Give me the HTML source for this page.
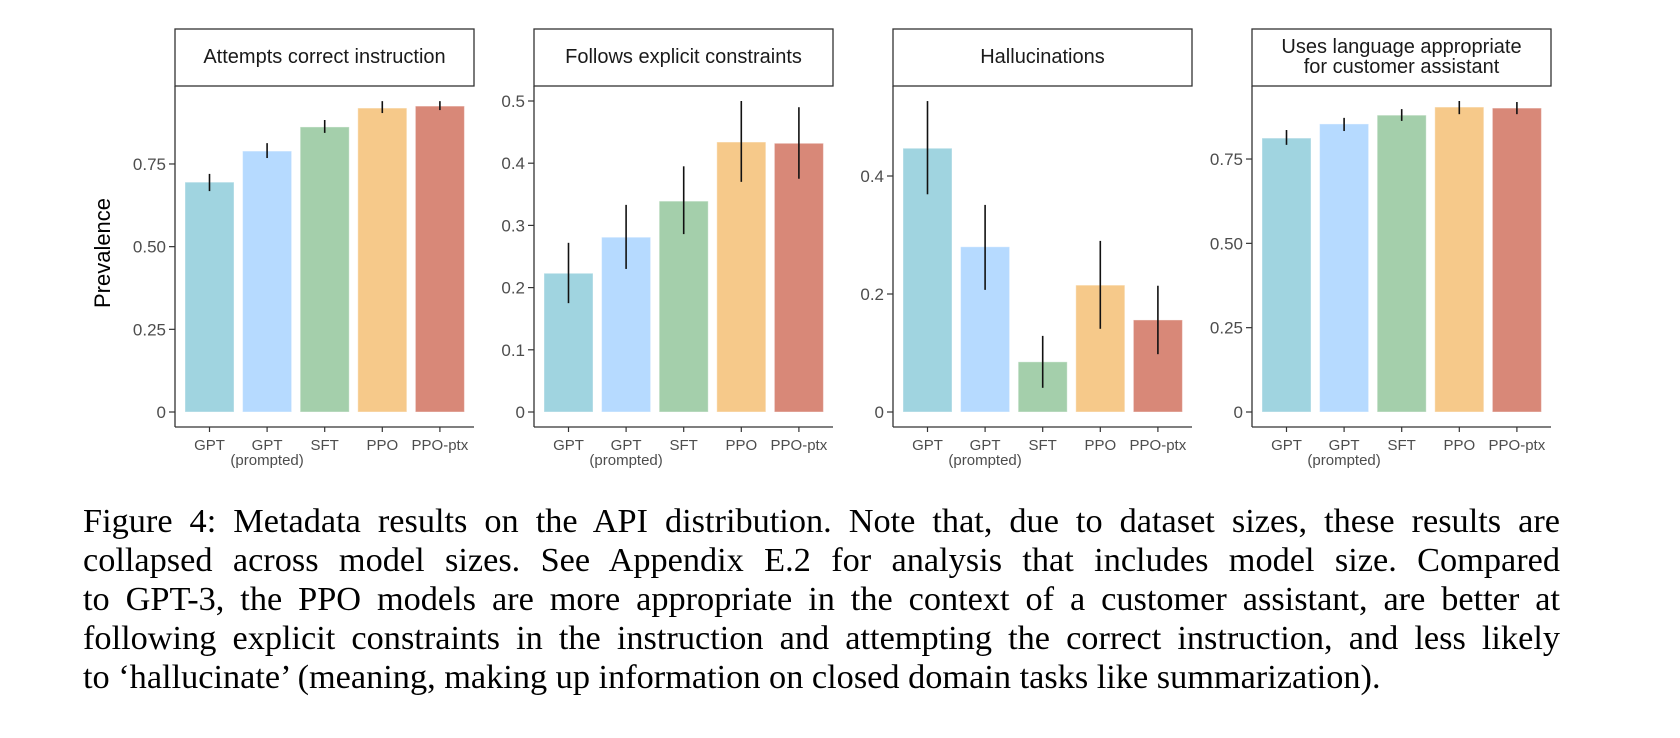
<!DOCTYPE html>
<html><head><meta charset="utf-8"><style>
body{margin:0;background:#fff;width:1680px;height:738px;overflow:hidden;}
#fig{position:absolute;left:0;top:0;}
.cap{position:absolute;left:83px;width:1477px;font-family:"Liberation Serif",serif;font-size:34.3px;color:#000;white-space:nowrap;}
.j{text-align:justify;text-align-last:justify;}
</style></head><body>
<svg id="fig" width="1680" height="738" xmlns="http://www.w3.org/2000/svg"></svg>
<div class="cap j" style="top:502px">Figure 4: Metadata results on the API distribution. Note that, due to dataset sizes, these results are</div>
<div class="cap j" style="top:541px">collapsed across model sizes. See Appendix E.2 for analysis that includes model size. Compared</div>
<div class="cap j" style="top:580px">to GPT-3, the PPO models are more appropriate in the context of a customer assistant, are better at</div>
<div class="cap j" style="top:619px">following explicit constraints in the instruction and attempting the correct instruction, and less likely</div>
<div class="cap" style="top:658px">to ‘hallucinate’ (meaning, making up information on closed domain tasks like summarization).</div>
<script>
const categories=["GPT","GPT|(prompted)","SFT","PPO","PPO-ptx"];
const colors=["#a0d4e0","#b6daff","#a4cfab","#f6c98a","#d88878"];
const titles=[["Attempts correct instruction"],["Follows explicit constraints"],["Hallucinations"],["Uses language appropriate","for customer assistant"]];
const vals1=[0.695,0.789,0.862,0.919,0.925];
const lo1=[0.668,0.768,0.844,0.904,0.913];
const hi1=[0.720,0.813,0.883,0.940,0.940];
const vals2=[0.223,0.281,0.339,0.434,0.432];
const lo2=[0.175,0.230,0.286,0.370,0.375];
const hi2=[0.272,0.333,0.395,0.500,0.490];
const vals3=[0.447,0.280,0.085,0.215,0.156];
const lo3=[0.369,0.207,0.041,0.141,0.098];
const hi3=[0.527,0.351,0.129,0.290,0.214];
const vals4=[0.812,0.854,0.880,0.904,0.901];
const lo4=[0.792,0.833,0.863,0.883,0.883];
const hi4=[0.836,0.872,0.898,0.922,0.919];
const ticks1=[0,0.25,0.5,0.75],tickLab1=["0","0.25","0.50","0.75"];
const ticks2=[0,0.1,0.2,0.3,0.4,0.5],tickLab2=["0","0.1","0.2","0.3","0.4","0.5"];
const ticks3=[0,0.2,0.4],tickLab3=["0","0.2","0.4"];
const ticks4=[0,0.25,0.5,0.75],tickLab4=["0","0.25","0.50","0.75"];
const panels=[
 {left:175,vals:vals1,lo:lo1,hi:hi1,ticks:ticks1,lab:tickLab1,ppu:330.7},
 {left:534,vals:vals2,lo:lo2,hi:hi2,ticks:ticks2,lab:tickLab2,ppu:622},
 {left:893,vals:vals3,lo:lo3,hi:hi3,ticks:ticks3,lab:tickLab3,ppu:590},
 {left:1252,vals:vals4,lo:lo4,hi:hi4,ticks:ticks4,lab:tickLab4,ppu:337.3}];
const svg=document.getElementById('fig');
const NS="http://www.w3.org/2000/svg";
function mk(tag,attrs,parent){const e=document.createElementNS(NS,tag);for(const k in attrs)e.setAttribute(k,attrs[k]);(parent||svg).appendChild(e);return e;}
const W=299,Y0=412,AXY=427,STOP=29,SBOT=86,STEP=57.6,BW=49;
const FONT='"Liberation Sans",Arial,sans-serif';
const yl=mk('text',{x:0,y:0,transform:'translate(110,253) rotate(-90)','text-anchor':'middle','font-family':FONT,'font-size':22,fill:'#000'});


yl.textContent='Prevalence';
panels.forEach((p,pi)=>{
 const g=mk('g',{});
 
 
 const yS=v=>Y0-v*p.ppu;
 const xC=i=>p.left+10+BW/2+i*STEP;
 const st=mk('rect',{x:p.left,y:STOP,width:W,height:SBOT-STOP,fill:'#fff',stroke:'#333','stroke-width':1.3},g);
 
 
 const t=titles[pi];
 t.forEach((line,li)=>{
  const tx=mk('text',{x:p.left+W/2,y:t.length===1?63:53+li*20,'text-anchor':'middle','font-family':FONT,'font-size':20,fill:'#1a1a1a'},g);
  
  
  tx.textContent=line;
 });
 p.vals.forEach((v,i)=>{
  const r=mk('rect',{x:xC(i)-BW/2,y:yS(v),width:BW,height:v*p.ppu,fill:colors[i],stroke:'#fff','stroke-opacity':0.4,'stroke-width':1},g);
  
  
  const e=mk('line',{x1:xC(i),x2:xC(i),y1:yS(p.lo[i]),y2:yS(p.hi[i]),stroke:'#111','stroke-width':1.6},g);
  
  
  const xt=mk('line',{x1:xC(i),x2:xC(i),y1:AXY,y2:AXY+5,stroke:'#333','stroke-width':1.2},g);
  
  
  categories[i].split('|').forEach((s,si)=>{
   const lt=mk('text',{x:xC(i),y:450+si*15,'text-anchor':'middle','font-family':FONT,'font-size':15,fill:'#4d4d4d'},g);
   
   
   lt.textContent=s;
  });
 });
 p.ticks.forEach((tv,ti)=>{
  const tl=mk('line',{x1:p.left-6,x2:p.left,y1:yS(tv),y2:yS(tv),stroke:'#333','stroke-width':1.2},g);
  
  
  const tt=mk('text',{x:p.left-9,y:yS(tv)+6,'text-anchor':'end','font-family':FONT,'font-size':17,fill:'#4d4d4d'},g);
  
  
  tt.textContent=p.lab[ti];
 });
 const ya=mk('line',{x1:p.left,x2:p.left,y1:SBOT,y2:AXY,stroke:'#333','stroke-width':1.3},g);
 
 
 const xa=mk('line',{x1:p.left,x2:p.left+W,y1:AXY,y2:AXY,stroke:'#333','stroke-width':1.3},g);
 
 
});
</script>
</body></html>
